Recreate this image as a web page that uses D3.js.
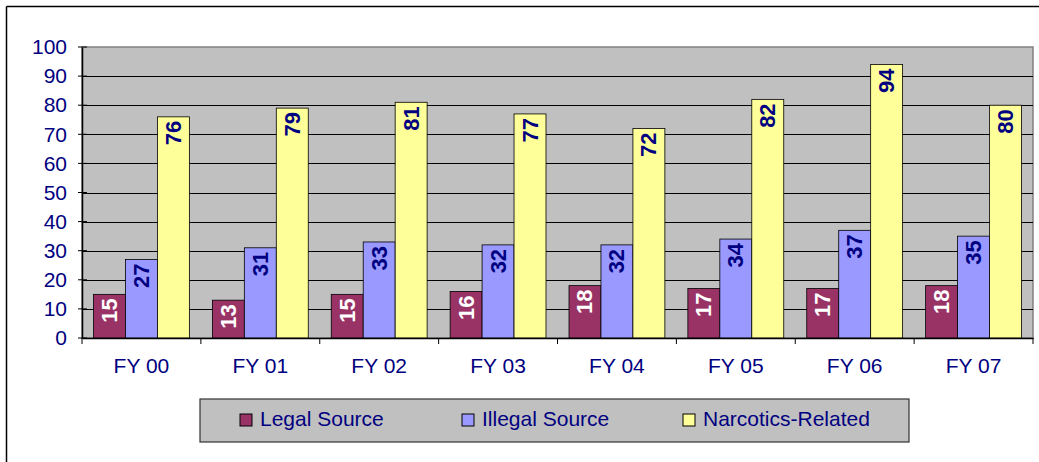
<!DOCTYPE html>
<html><head><meta charset="utf-8">
<script src="https://cdn.jsdelivr.net/npm/d3@7"></script>
<style>body{margin:0;background:#fff}svg{display:block}text{font-family:"Liberation Sans",Arial,sans-serif}</style>
</head><body><svg id="c" width="1039" height="462"></svg>
<script>
const categories = ["FY 00","FY 01","FY 02","FY 03","FY 04","FY 05","FY 06","FY 07"];
const seriesNames = ["Legal Source","Illegal Source","Narcotics-Related"];
const legalSource = [15,13,15,16,18,17,17,18];
const illegalSource = [27,31,33,32,32,34,37,35];
const narcoticsRelated = [76,79,81,77,72,82,94,80];
const yTicks = [0,10,20,30,40,50,60,70,80,90,100];
const colors = ["#993366","#9999ff","#ffff99"];
const labelColors = ["#ffffff","#000080","#000080"];

const series = [legalSource, illegalSource, narcoticsRelated];
const svg = d3.select("#c");
const L = 82, R = 1033, T = 47, B = 338;
const navy = "#000080";

// outer frame
svg.append("line").attr("x1",6.5).attr("x2",1039).attr("y1",6.5).attr("y2",6.5).attr("stroke","#000").attr("stroke-width",1.5);
svg.append("line").attr("x1",6.5).attr("x2",6.5).attr("y1",6.5).attr("y2",462).attr("stroke","#000").attr("stroke-width",1.5);

const x0 = d3.scaleBand().domain(categories).range([L,R]).paddingInner(0).paddingOuter(0);
const x1 = d3.scaleBand().domain(d3.range(3)).range([0,x0.bandwidth()]).paddingInner(0).paddingOuter(0.36);
const y = d3.scaleLinear().domain([0,100]).range([B,T]);

svg.append("rect").attr("x",L).attr("y",T).attr("width",R-L).attr("height",B-T).attr("fill","#c0c0c0").attr("stroke","#808080").attr("stroke-width",1.5);

// gridlines
svg.append("g").selectAll("line").data(yTicks.filter(d=>d>0 && d<100)).join("line")
  .attr("x1",L).attr("x2",R).attr("y1",d=>Math.round(y(d))+0.5).attr("y2",d=>Math.round(y(d))+0.5)
  .attr("stroke","#000").attr("stroke-width",1);

// bars
categories.forEach((c,i)=>{
  series.forEach((s,j)=>{
    const bx = x0(c)+x1(j), bw = x1.bandwidth(), v = s[i];
    svg.append("rect").attr("x",bx).attr("y",y(v)).attr("width",bw).attr("height",B-y(v))
      .attr("fill",colors[j]).attr("stroke","#000").attr("stroke-width",0.8);
    svg.append("text").attr("transform",`translate(${bx+bw/2},${y(v)+4}) rotate(-90)`)
      .attr("text-anchor","end").attr("dominant-baseline","central")
      .attr("font-size",22).attr("font-weight","bold").attr("fill",labelColors[j]).text(v);
  });
});

// y axis
const ya = svg.append("g").attr("transform",`translate(${L},0)`).call(d3.axisLeft(y).tickValues(yTicks).tickSize(0).tickPadding(15));
ya.select(".domain").attr("stroke","#000").attr("stroke-width",1.5);
ya.selectAll("text").attr("font-size",21).attr("fill",navy).attr("font-family","Liberation Sans, Arial, sans-serif");
svg.append("g").selectAll("line").data(yTicks).join("line")
  .attr("x1",L-4).attr("x2",L+5).attr("y1",d=>y(d)).attr("y2",d=>y(d)).attr("stroke","#000");

// x axis
const xa = svg.append("g").attr("transform",`translate(0,${B})`).call(d3.axisBottom(x0).tickSize(0).tickPadding(20));
xa.select(".domain").attr("stroke","#000").attr("stroke-width",1.5);
xa.selectAll("text").attr("font-size",21).attr("fill",navy).attr("font-family","Liberation Sans, Arial, sans-serif");
svg.append("g").selectAll("line").data(d3.range(categories.length+1)).join("line")
  .attr("x1",i=>L+i*x0.step()).attr("x2",i=>L+i*x0.step()).attr("y1",B).attr("y2",B+6).attr("stroke","#000");

// legend
svg.append("rect").attr("x",200).attr("y",399).attr("width",709).attr("height",43).attr("fill","#c0c0c0").attr("stroke","#333").attr("stroke-width",1.2);
const legX = [240,462,683];
seriesNames.forEach((n,j)=>{
  svg.append("rect").attr("x",legX[j]).attr("y",414).attr("width",12).attr("height",12).attr("fill",colors[j]).attr("stroke","#000");
  svg.append("text").attr("x",legX[j]+20).attr("y",418).attr("dominant-baseline","central").attr("font-size",21).attr("fill",navy).text(n);
});
</script></body></html>
